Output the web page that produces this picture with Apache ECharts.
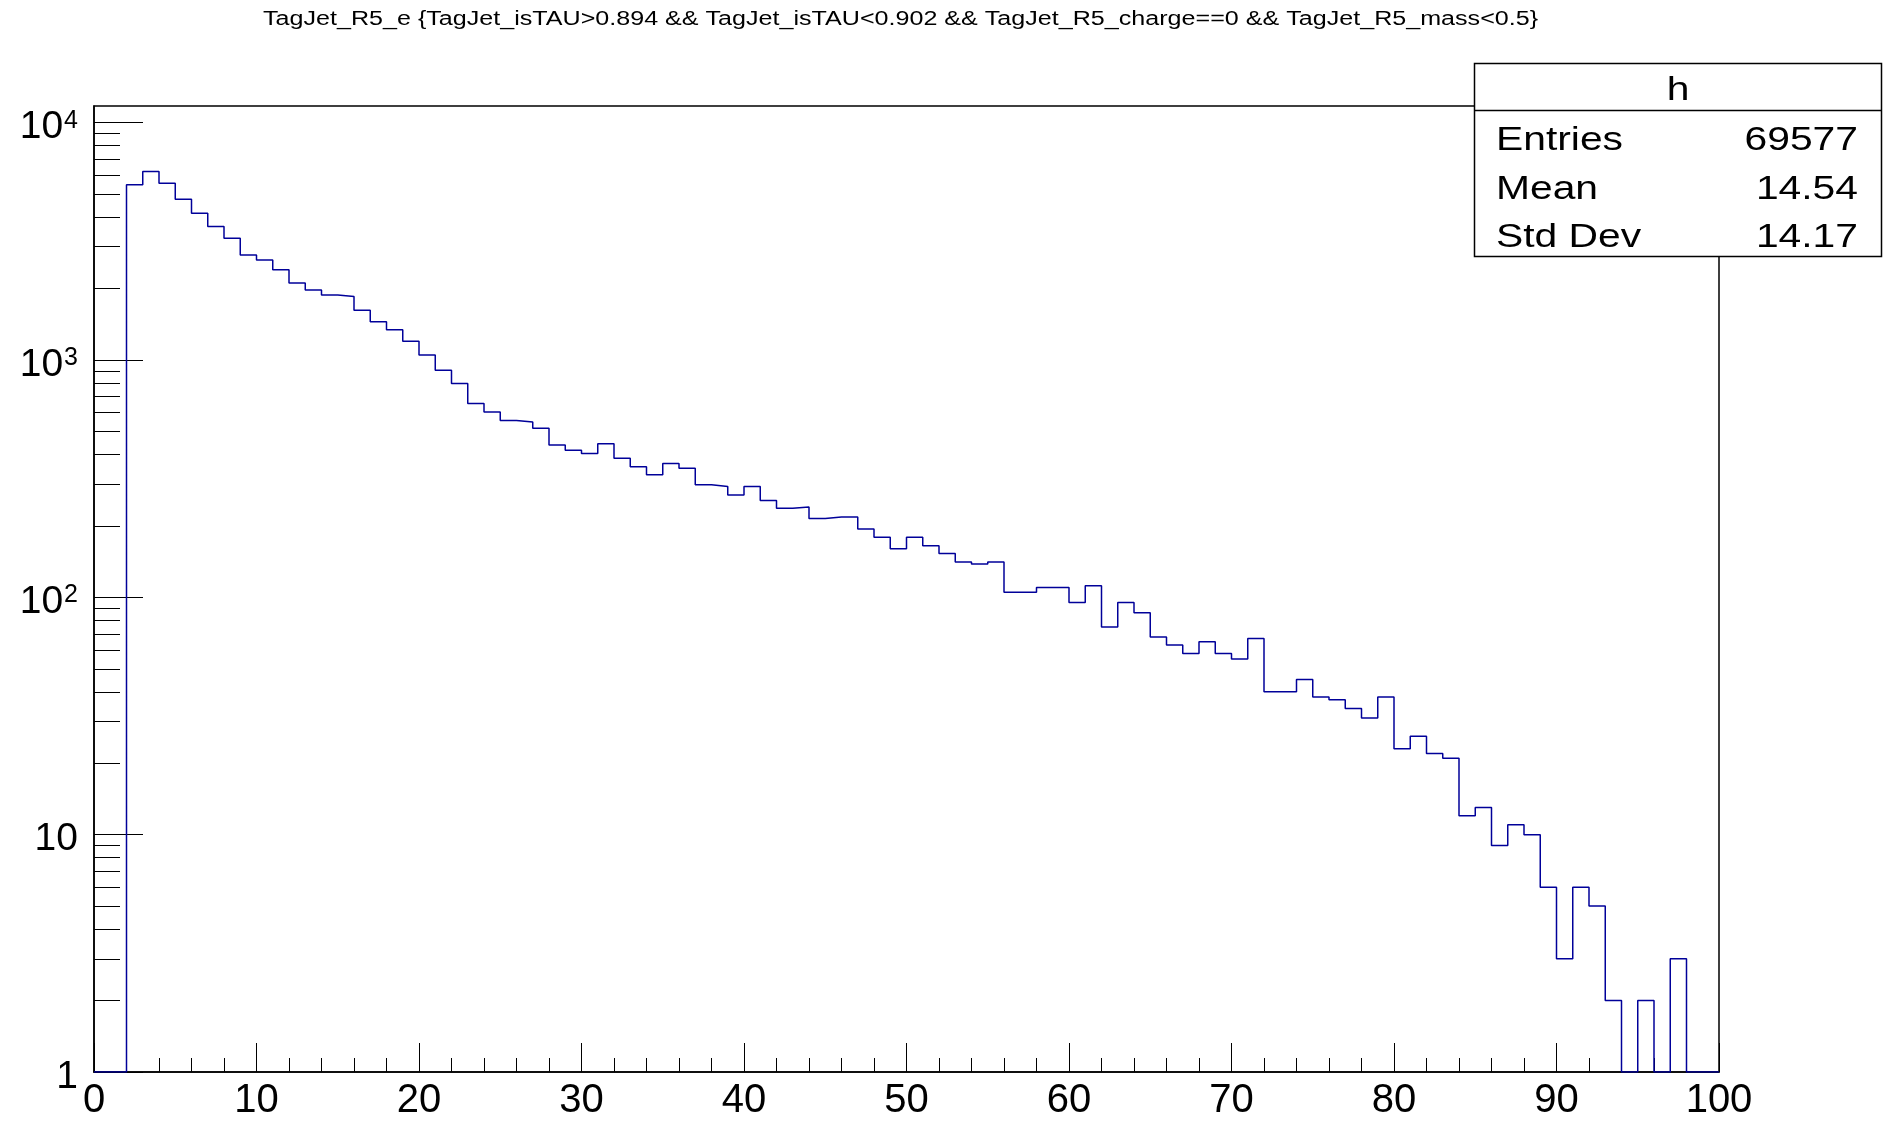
<!DOCTYPE html>
<html>
<head>
<meta charset="utf-8">
<title>TagJet_R5_e</title>
<script src="https://cdn.jsdelivr.net/npm/echarts@6/dist/echarts.min.js"></script>
<style>
  html, body { margin: 0; padding: 0; background: #fff; }
  #chart { width: 1889px; height: 1121px; }
</style>
</head>
<body>
<div id="chart"></div>
<script>
// histogram: 100 bins of width 1 from 0 to 100 (counts)
var binLow = 0;
var binWidth = 1;
var counts = [
  0, 0, 5470, 6230, 5560, 4750, 4150, 3650, 3260, 2770,
  2640, 2400, 2110, 1970, 1880, 1850, 1620, 1450, 1340, 1200,
  1050, 905, 795, 656, 603, 556, 548, 515, 438, 417,
  404, 444, 385, 355, 328, 366, 350, 298, 293, 270,
  293, 256, 237, 240, 215, 218, 218, 194, 179, 160,
  179, 165, 153, 141, 138, 141, 105, 105, 110, 110,
  95, 112, 75, 95, 86, 68, 63, 58, 65, 58,
  55, 67, 40, 40, 45, 38, 37, 34, 31, 38,
  23, 26, 22, 21, 12, 13, 9, 11, 10, 6,
  3, 6, 5, 2, 0, 2, 0, 3, 0, 0
];
var xTicks = [0, 10, 20, 30, 40, 50, 60, 70, 80, 90, 100];
var yMajor = [1, 10, 100, 1000, 10000];
var yMinor = [];
yMajor.forEach(function (d) {
  for (var k = 2; k <= 9; k++) {
    if (d * k < 11750) yMinor.push(d * k);
  }
});

var titleText = 'TagJet_R5_e {TagJet_isTAU>0.894 && TagJet_isTAU<0.902 && TagJet_R5_charge==0 && TagJet_R5_mass<0.5}';
var statsTitle = 'h';
var statsNames = ['Entries', 'Mean', 'Std Dev'];
var statsValues = ['69577', '14.54', '14.17'];

var yMin = 1, yMax = 11750;
var font = 'Liberation Sans, Arial, Helvetica, sans-serif';

// outline points at the low edge of every bin, zero bins sit on the axis floor
var outline = [];
for (var i = 0; i < counts.length; i++) {
  outline.push([binLow + i * binWidth, counts[i] > 0 ? counts[i] : yMin]);
}
outline.push([binLow + counts.length * binWidth, counts[counts.length - 1] > 0 ? counts[counts.length - 1] : yMin]);

var chart = echarts.init(document.getElementById('chart'), null, { renderer: 'canvas' });

var sup = { '2': '2', '3': '3', '4': '4' };
var stretch = 1.2; // the ROOT text in the picture is drawn wider than plain Helvetica

var graphics = [
  { type: 'text', x: 263, y: 19, scaleX: 1.255, z: 50,
    style: { text: titleText, font: '20px ' + font, fill: '#000', align: 'left', verticalAlign: 'middle' } },
  { type: 'rect', shape: { x: 1474.5, y: 63.5, width: 407, height: 193 },
    style: { fill: '#fff', stroke: '#000', lineWidth: 1.5 }, z: 100 },
  { type: 'line', shape: { x1: 1474.5, y1: 110.5, x2: 1881.5, y2: 110.5 },
    style: { stroke: '#000', lineWidth: 1.5 }, z: 101 },
  { type: 'text', x: 1678, y: 91, scaleX: stretch, z: 102,
    style: { text: statsTitle, font: '34px ' + font, fill: '#000', align: 'center', verticalAlign: 'middle' } }
];
statsNames.forEach(function (n, k) {
  var yc = 141 + k * 48.5;
  graphics.push({ type: 'text', x: 1496, y: yc, scaleX: stretch, z: 102,
    style: { text: n, font: '34px ' + font, fill: '#000', align: 'left', verticalAlign: 'middle' } });
  graphics.push({ type: 'text', x: 1858, y: yc, scaleX: stretch, z: 102,
    style: { text: statsValues[k], font: '34px ' + font, fill: '#000', align: 'right', verticalAlign: 'middle' } });
});

chart.setOption({
  animation: false,
  backgroundColor: '#fff',
  grid: {
    left: 94, top: 106, width: 1625, height: 970,
    show: true, borderColor: '#000', borderWidth: 1.5, backgroundColor: 'transparent'
  },
  xAxis: {
    type: 'value', min: 0, max: 100, interval: 10,
    axisLine: { show: true, lineStyle: { color: '#000', width: 1.5 } },
    axisTick: { show: true, inside: true, length: 29, lineStyle: { color: '#000', width: 1 }, customValues: xTicks },
    minorTick: { show: true, splitNumber: 5, length: 14, lineStyle: { color: '#000', width: 1 } },
    splitLine: { show: false },
    axisLabel: { margin: 9, fontFamily: font, fontSize: 40, color: '#000', customValues: xTicks }
  },
  yAxis: [
    {
      type: 'log', logBase: 10, min: yMin, max: yMax, position: 'left',
      axisLine: { show: true, lineStyle: { color: '#000', width: 1.5 } },
      axisTick: { show: true, inside: true, length: 49, lineStyle: { color: '#000', width: 1 }, customValues: yMajor },
      splitLine: { show: false },
      axisLabel: {
        margin: 16, color: '#000', fontFamily: font, customValues: yMajor,
        padding: [10, 0, 0, 0],
        formatter: function (v) {
          var e = Math.round(Math.log10(v));
          if (e <= 1) return '{b|' + Math.round(v) + '}';
          return '{b|10}{s|' + sup[e] + '}';
        },
        rich: {
          b: { fontFamily: font, fontSize: 39, color: '#000' },
          s: { fontFamily: font, fontSize: 25, color: '#000', verticalAlign: 'top', padding: [0, 0, 10, 1] }
        }
      }
    },
    {
      type: 'log', logBase: 10, min: yMin, max: yMax, position: 'left', offset: 0,
      axisLine: { show: false },
      axisTick: { show: true, inside: true, length: 26, lineStyle: { color: '#000', width: 1 }, customValues: yMinor },
      splitLine: { show: false },
      axisLabel: { show: false }
    }
  ],
  series: [{
    type: 'line',
    step: 'end',
    yAxisIndex: 0,
    data: outline,
    showSymbol: false,
    symbol: 'none',
    clip: true,
    lineStyle: { color: '#000099', width: 1.5 },
    z: 5
  }],
  graphic: graphics
});
</script>
</body>
</html>
